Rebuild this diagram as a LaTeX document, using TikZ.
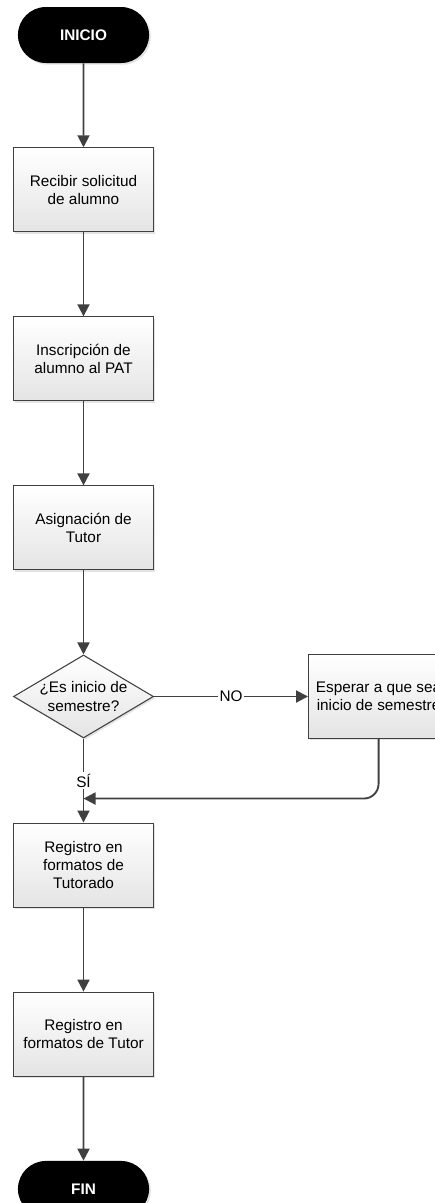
\documentclass[tikz,border=0pt]{standalone}
\usepackage{fontspec}
\setmainfont{Liberation Sans}
\usetikzlibrary{
  arrows.meta,
  shapes.misc,
  shapes.geometric,
  chains,
  positioning,
  scopes,
  shadows
}
\definecolor{linegray}{HTML}{404040}
\definecolor{boxgray}{HTML}{E4E4E4}

\begin{document}
\begin{tikzpicture}[
      x=0.75pt, y=0.75pt,
      node distance=63pt,
      every node/.style={font=\fontsize{11.5}{13.8}\selectfont},
      process/.style={
         rectangle,
         minimum width=105pt,
         minimum height=63pt,
         line width=0.8pt,
         draw=linegray,
         top color=white,
         bottom color=boxgray,
         drop shadow={shadow xshift=1.3pt,shadow yshift=-1.3pt,fill=black!22},
         align=center
      },
      terminal/.style={
         rounded rectangle,
         minimum width=105pt,
         minimum height=42pt,
         fill=black,
         drop shadow={shadow xshift=1.3pt,shadow yshift=-1.3pt,fill=black!22},
         text=white,
         font=\fontsize{11.5}{13.8}\selectfont\bfseries
      },
      decision/.style={
         diamond,
         aspect=1.69,
         inner sep=0pt,
         minimum width=105pt,
         minimum height=62.25pt,
         line width=0.8pt,
         draw=linegray,
         top color=white,
         bottom color=boxgray,
         drop shadow={shadow xshift=1.3pt,shadow yshift=-1.3pt,fill=black!22}
      },
      flowlabel/.style={fill=white, inner sep=1pt},
      tip/.style={-{Triangle[length=9pt,width=9pt]}, line width=1.4pt, draw=linegray},
      every join/.style={rounded corners}
    ]
    \useasboundingbox (-83.5,35) rectangle (351.5,-1168);

    \node (n1) [terminal] {INICIO};
    \node (n2) [process, below=of n1] {Recibir solicitud\\de alumno};
    \node (n3) [process, below=of n2] {Inscripción de\\alumno al PAT};
    \node (n4) [process, below=of n3] {Asignación de\\Tutor};
    \node (n5) [decision, below=of n4,
                label={[align=center]center:¿Es inicio de\\semestre?}] {};
    \node (n6) [process, below=of n5] {Registro en\\formatos de\\Tutorado};
    \node (n7) [process, below=of n6] {Registro en\\formatos de Tutor};
    \node (n8) [terminal, below=of n7] {FIN};
    \node (n9) [process, right=115.5pt of n5] {Esperar a que sea\\inicio de semestre};
    \coordinate (m1) at ([yshift=-45pt]n5.south);

  { [start chain]
       \chainin (n1);
       \chainin (n2)    [join=by tip];
       \chainin (n3)    [join=by tip];
       \chainin (n4)    [join=by tip];
       \chainin (n5)    [join=by tip];
  }
  { [start chain]
       \chainin (n6);
       \chainin (n7)    [join=by tip];
       \chainin (n8)    [join=by tip];
  }
    \draw [tip] (n5) -- node [flowlabel] {NO} (n9);
    \draw [tip] (n5) -- node [flowlabel] {SÍ} (n6);
    \draw [tip, rounded corners=11pt] (n9.south) |- (m1);
\end{tikzpicture}
\end{document}
